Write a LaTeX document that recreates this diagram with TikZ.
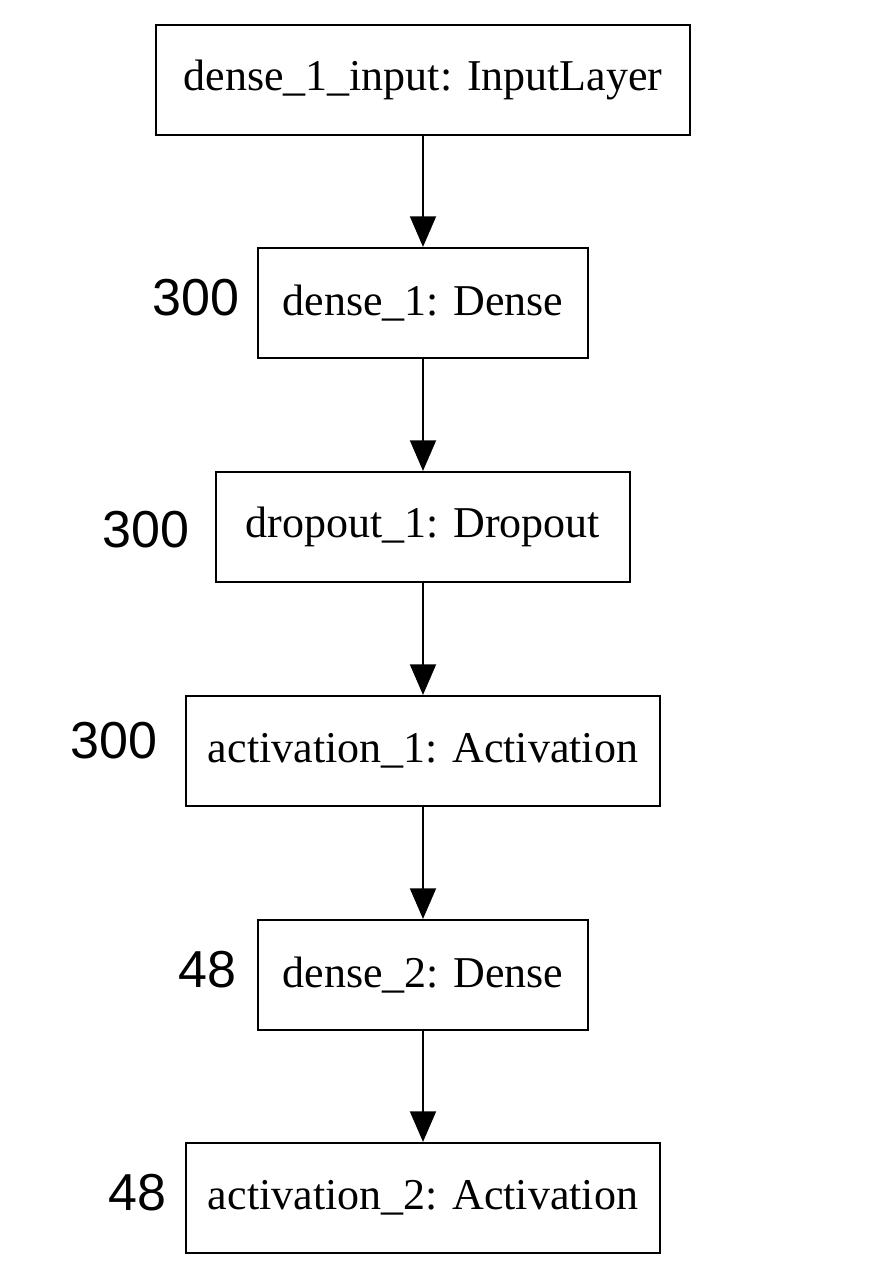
\documentclass[tikz,border=0pt]{standalone}
\usepackage{fontspec}
\setmainfont{Liberation Serif}
\newfontfamily\labelfont{Liberation Sans}
\usetikzlibrary{arrows.meta}

\begin{document}
\begin{tikzpicture}
            [x=0.75pt,y=-0.75pt,thick,
             layer/.style={draw,rectangle,line width=1.6pt,minimum height=82.5pt,inner sep=0pt,font=\fontsize{33}{40}\selectfont},
             units/.style={anchor=base east,inner sep=0pt,font=\labelfont\fontsize{39}{46}\selectfont},
             flow/.style={line width=1.5pt,-{Triangle[length=23pt,width=19.5pt]}}]
            \useasboundingbox (0,0) rectangle (890,1280);
            % layers
            \node[layer,minimum width=401pt] (L0) at (423, 80) {dense\_1\_input: InputLayer};
            \node[layer,minimum width=247pt] (L1) at (423, 303) {dense\_1: Dense};
            \node[layer,minimum width=310pt] (L2) at (423, 527) {dropout\_1: Dropout};
            \node[layer,minimum width=355pt] (L3) at (423, 751) {activation\_1: Activation};
            \node[layer,minimum width=247pt] (L4) at (423, 975) {dense\_2: Dense};
            \node[layer,minimum width=355pt] (L5) at (423,1198) {activation\_2: Activation};

            % output sizes
            \node[units] (N1) at (240, 315) {300};
            \node[units] (N2) at (190, 547) {300};
            \node[units] (N3) at (158, 758) {300};
            \node[units] (N4) at (237, 987) {48};
            \node[units] (N5) at (167,1210) {48};

            % connections
            \draw[flow] (L0) -- (L1);
            \draw[flow] (L1) -- (L2);
            \draw[flow] (L2) -- (L3);
            \draw[flow] (L3) -- (L4);
            \draw[flow] (L4) -- (L5);
        \end{tikzpicture}
\end{document}
